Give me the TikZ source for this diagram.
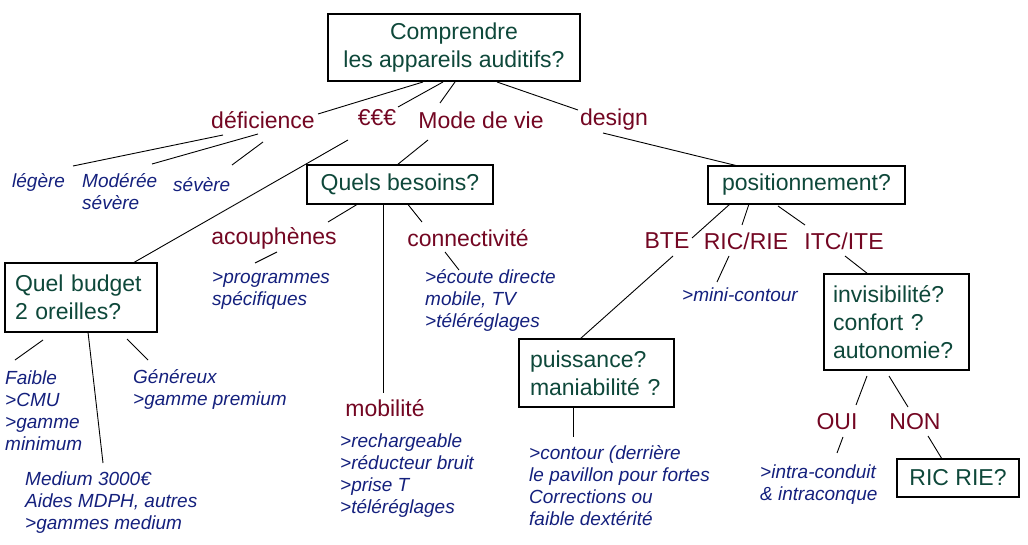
\documentclass[tikz,border=0pt]{standalone}
\usepackage{fontspec}
\setmainfont{Liberation Sans}
\definecolor{boxtxt}{RGB}{14,72,58}
\definecolor{redtxt}{RGB}{115,6,34}
\definecolor{bluetxt}{RGB}{20,32,125}
\begin{document}
\begin{tikzpicture}[x=1pt,y=-1pt,
  qbox/.style={draw=black, line width=1.1pt, fill=white, text=boxtxt,
    font=\fontsize{23}{28}\selectfont, inner sep=0pt},
  lbox/.style={qbox, align=left},
  redlbl/.style={text=redtxt, font=\fontsize{23}{28}\selectfont, inner sep=0pt},
  bluelbl/.style={text=bluetxt, font=\fontsize{19}{22}\selectfont\itshape,
    align=left, inner sep=0pt, anchor=west},
  conn/.style={draw=black, line width=0.9pt}]
\useasboundingbox (0,0) rectangle (1028,545);

% boxes
\node[qbox, align=center, minimum width=252pt, minimum height=67pt] (root) at (454,47.5)
  {Comprendre\\les appareils auditifs?};
\node[qbox, minimum width=186pt, minimum height=39pt] (besoins) at (400,184.5) {Quels besoins?};
\node[lbox, inner xsep=10pt, text width=132pt, minimum height=69pt] (budget) at (81,297.5)
  {Quel budget\\2 oreilles?};
\node[qbox, minimum width=197pt, minimum height=38pt] (position) at (806.5,185) {positionnement?};
\node[lbox, inner xsep=11pt, text width=133pt, minimum height=68pt] (puis) at (596.5,373)
  {puissance?\\maniabilité ?};
\node[lbox, inner xsep=9pt, text width=127pt, minimum height=96pt] (invis) at (896.5,322)
  {invisibilité?\\confort ?\\autonomie?};
\node[qbox, minimum width=122pt, minimum height=38pt] (ricrie) at (958,478) {RIC RIE?};

% red labels
\node[redlbl] (def) at (263,120) {déficience};
\node[redlbl] (eur) at (377,118) {€€€};
\node[redlbl] (mode) at (481,120) {Mode de vie};
\node[redlbl] (design) at (614,120) {design};
\node[redlbl] (acou) at (274,238) {acouphènes};
\node[redlbl] (conn) at (468,238) {connectivité};
\node[redlbl] (mob) at (385,408) {mobilité};
\node[redlbl] (bte) at (667,241) {BTE};
\node[redlbl] (ric) at (746,241) {RIC/RIE};
\node[redlbl] (itc) at (844,241) {ITC/ITE};
\node[redlbl] (oui) at (837,422) {OUI};
\node[redlbl] (non) at (915,422) {NON};

% blue texts
\node[bluelbl] (leg) at (12,182) {légère};
\node[bluelbl] (mod) at (82,191.5) {Modérée\\sévère};
\node[bluelbl] (sev) at (173,185) {sévère};
\node[bluelbl] (prog) at (212,291) {>programmes\\spécifiques};
\node[bluelbl] (ecoute) at (425,300.5) {>écoute directe\\mobile, TV\\>téléréglages};
\node[bluelbl] (mobc) at (340,475.5) {>rechargeable\\>réducteur bruit\\>prise T\\>téléréglages};
\node[bluelbl] (faible) at (5,410.5) {Faible\\>CMU\\>gamme\\minimum};
\node[bluelbl] (medium) at (25,502.5) {Medium 3000€\\Aides MDPH, autres\\>gammes medium};
\node[bluelbl] (gen) at (133,389) {Généreux\\>gamme premium};
\node[bluelbl] (mini) at (682,295) {>mini-contour};
\node[bluelbl] (contour) at (529,486) {>contour (derrière\\le pavillon pour fortes\\Corrections ou\\faible dextérité};
\node[bluelbl] (intra) at (760,485) {>intra-conduit\\\& intraconque};

% connectors
\draw[conn] ([shift={(-31,34.5)}]root.center) -- ([shift={(55,-6)}]def.center);
\draw[conn] ([shift={(-11,34.5)}]root.center) -- ([shift={(21,-11)}]eur.center);
\draw[conn] ([shift={(1,34.5)}]root.center) -- ([shift={(-41,-17)}]mode.center);
\draw[conn] ([shift={(43,34.5)}]root.center) -- ([shift={(-36,-10)}]design.center);
\draw[conn] ([shift={(-40,15)}]def.center) -- ([shift={(61,-16)}]leg.west);
\draw[conn] ([shift={(-5,14)}]def.center) -- ([shift={(70,-27.5)}]mod.west);
\draw[conn] ([shift={(0,22)}]def.center) -- ([shift={(59,-20)}]sev.west);
\draw[conn] ([shift={(-29,22)}]eur.center) -- ([shift={(52,-34.5)}]budget.center);
\draw[conn] ([shift={(-53,20)}]mode.center) -- ([shift={(-3,-19.5)}]besoins.center);
\draw[conn] ([shift={(-43,20)}]besoins.center) -- ([shift={(54,-16)}]acou.center);
\draw[conn] ([shift={(-17,19.5)}]besoins.center) -- ([shift={(-2,-15)}]mob.center);
\draw[conn] ([shift={(8,20)}]besoins.center) -- ([shift={(-46,-16)}]conn.center);
\draw[conn] ([shift={(3,14)}]acou.center) -- ([shift={(43,-28)}]prog.west);
\draw[conn] ([shift={(-23,14)}]conn.center) -- ([shift={(34,-30.5)}]ecoute.west);
\draw[conn] ([shift={(-38,42.5)}]budget.center) -- ([shift={(10,-50.5)}]faible.west);
\draw[conn] ([shift={(7,34.5)}]budget.center) -- ([shift={(78,-39.5)}]medium.west);
\draw[conn] ([shift={(46,41.5)}]budget.center) -- ([shift={(15,-29)}]gen.west);
\draw[conn] ([shift={(-11,13)}]design.center) -- ([shift={(-68.5,-19)}]position.center);
\draw[conn] ([shift={(-76.5,19)}]position.center) -- ([shift={(25,-3)}]bte.center);
\draw[conn] ([shift={(-57.5,19)}]position.center) -- ([shift={(-4,-16)}]ric.center);
\draw[conn] ([shift={(-28.5,21)}]position.center) -- ([shift={(-39,-16)}]itc.center);
\draw[conn] ([shift={(6,15)}]bte.center) -- ([shift={(-16.5,-34)}]puis.center);
\draw[conn] ([shift={(-17,15)}]ric.center) -- ([shift={(35,-13)}]mini.west);
\draw[conn] ([shift={(1,15)}]itc.center) -- ([shift={(-28.5,-48)}]invis.center);
\draw[conn] ([shift={(-29.5,54)}]invis.center) -- ([shift={(19,-17)}]oui.center);
\draw[conn] ([shift={(-7.5,54)}]invis.center) -- ([shift={(-7,-15)}]non.center);
\draw[conn] ([shift={(6,15)}]oui.center) -- ([shift={(77,-32)}]intra.west);
\draw[conn] ([shift={(13,14)}]non.center) -- ([shift={(-16,-19)}]ricrie.center);
\draw[conn] ([shift={(-23.5,34)}]puis.center) -- ([shift={(44,-49)}]contour.west);
\end{tikzpicture}
\end{document}
